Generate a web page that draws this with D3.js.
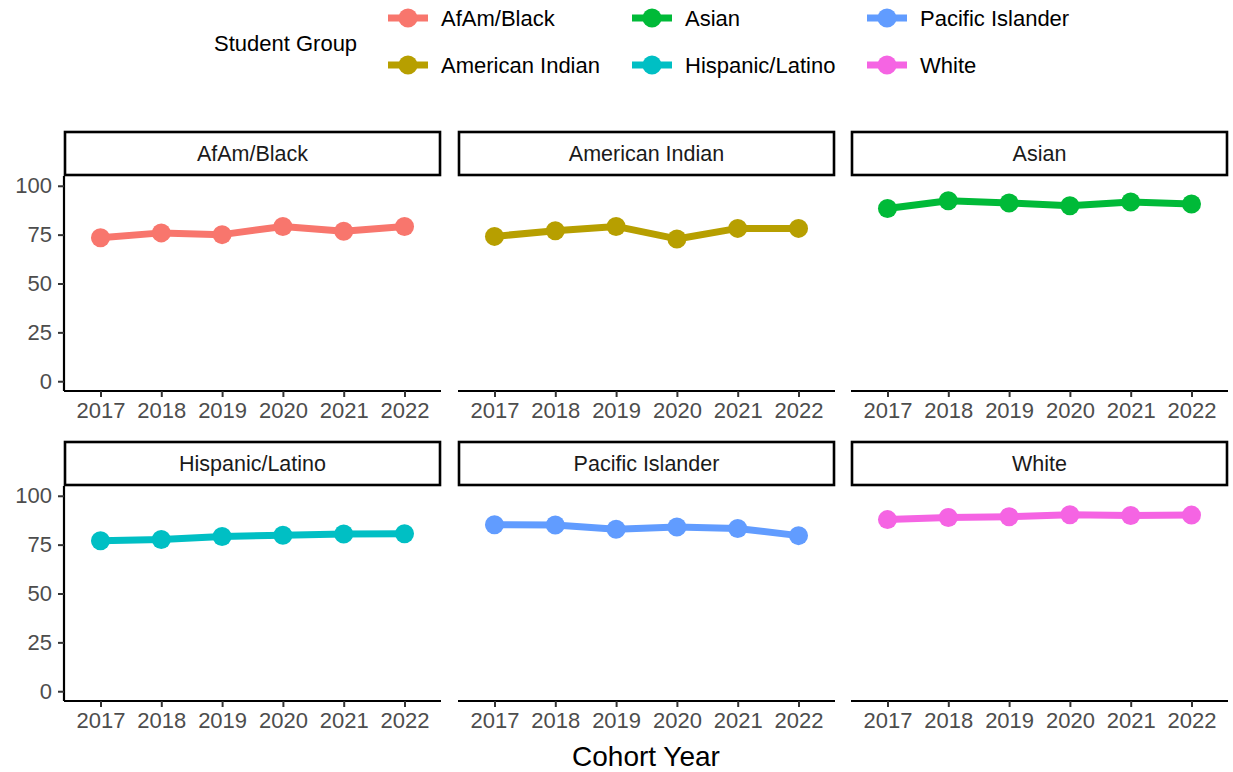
<!DOCTYPE html>
<html>
<head>
<meta charset="utf-8">
<script src="https://cdn.jsdelivr.net/npm/d3@7"></script>
<style>
  body { margin: 0; background: #fff; }
  text { font-family: "Liberation Sans", Arial, sans-serif; }
</style>
</head>
<body>
<script>
var groups = ["AfAm/Black", "American Indian", "Asian", "Hispanic/Latino", "Pacific Islander", "White"];
var years = ["2017", "2018", "2019", "2020", "2021", "2022"];
var colors = ["#F8766D", "#B79F00", "#00BA38", "#00BFC4", "#619CFF", "#F564E3"];
var yTicks = [0, 25, 50, 75, 100];

var afamBlack = [73.4, 75.9, 75.0, 79.2, 76.7, 79.2];
var americanIndian = [74.1, 77.0, 79.2, 72.8, 78.2, 78.2];
var asian = [88.4, 92.3, 91.2, 89.8, 91.7, 90.7];
var hispanicLatino = [77.0, 77.6, 79.2, 79.8, 80.4, 80.6];
var pacificIslander = [85.2, 85.0, 82.9, 84.0, 83.3, 79.6];
var white = [87.8, 88.9, 89.3, 90.3, 89.9, 90.1];

var seriesValues = [afamBlack, americanIndian, asian, hispanicLatino, pacificIslander, white];

var W = 1233, H = 772;
var svg = d3.select("body").append("svg").attr("width", W).attr("height", H);

var colX = [64, 458, 851], rowY = [131, 441];
var pw = 377, stripH = 45, ph = 215;

var color = d3.scaleOrdinal().domain(groups).range(colors);

// discrete x, expanded 0.6 of a step each side
var x = d3.scalePoint().domain(years).range([0, pw]).padding(0.6);
var y = d3.scaleLinear().domain([-5, 105]).range([ph, 0]);

groups.forEach(function(g, i) {
  var col = i % 3, row = Math.floor(i / 3);
  var gx = colX[col], gy = rowY[row];
  var panel = svg.append("g").attr("transform", "translate(" + gx + "," + gy + ")");

  // strip
  panel.append("rect").attr("x", 1).attr("y", 1).attr("width", pw - 2).attr("height", stripH - 2)
    .attr("fill", "#fff").attr("stroke", "#000").attr("stroke-width", 2.6);
  panel.append("text").attr("x", pw / 2).attr("y", stripH / 2 + 7.5)
    .attr("text-anchor", "middle").style("font-size", "21.5px").attr("fill", "#1A1A1A").text(g);

  var plot = panel.append("g").attr("transform", "translate(0," + stripH + ")");

  var yAxis = d3.axisLeft(y).tickValues(yTicks).tickSize(6).tickPadding(6);
  var ya = plot.append("g").call(yAxis);
  var xAxis = d3.axisBottom(x).tickSize(6).tickPadding(5);
  var xa = plot.append("g").attr("transform", "translate(0," + ph + ")").call(xAxis);

  [ya, xa].forEach(function(a) {
    a.attr("font-size", null).attr("font-family", null);
    a.select(".domain").attr("stroke", "#000").attr("stroke-width", 2.2);
    a.selectAll(".tick line").attr("stroke", "#333").attr("stroke-width", 2);
    a.selectAll(".tick text").attr("fill", "#4D4D4D").style("font-size", "22px");
  });
  if (col !== 0) ya.remove();
  else ya.select(".domain").attr("d", "M0," + ph + "V0");
  xa.select(".domain").attr("d", "M0,0H" + pw);

  var pts = years.map(function(yr, j) { return { year: yr, v: seriesValues[i][j] }; });
  var line = d3.line().x(function(d) { return x(d.year); }).y(function(d) { return y(d.v); });
  plot.append("path").datum(pts).attr("d", line).attr("fill", "none")
    .attr("stroke", color(g)).attr("stroke-width", 7).attr("stroke-linejoin", "round");
  plot.selectAll("circle").data(pts).enter().append("circle")
    .attr("cx", function(d) { return x(d.year); })
    .attr("cy", function(d) { return y(d.v); })
    .attr("r", 9.5).attr("fill", color(g));
});

// axis title
svg.append("text").attr("x", 646).attr("y", 766).attr("text-anchor", "middle")
  .style("font-size", "28px").attr("fill", "#000").text("Cohort Year");

// legend
svg.append("text").attr("x", 214).attr("y", 51).style("font-size", "22px").attr("fill", "#000").text("Student Group");
var legX = [408, 652, 887], legY = [18, 65];
groups.forEach(function(g, i) {
  var col = Math.floor(i / 2), row = i % 2;
  var cx = legX[col], cy = legY[row];
  var lg = svg.append("g");
  lg.append("line").attr("x1", cx - 20).attr("x2", cx + 20).attr("y1", cy).attr("y2", cy)
    .attr("stroke", color(g)).attr("stroke-width", 7);
  lg.append("circle").attr("cx", cx).attr("cy", cy).attr("r", 9.5).attr("fill", color(g));
  lg.append("text").attr("x", cx + 33).attr("y", cy + 8).style("font-size", "22px").attr("fill", "#000").text(g);
});
</script>
</body>
</html>
